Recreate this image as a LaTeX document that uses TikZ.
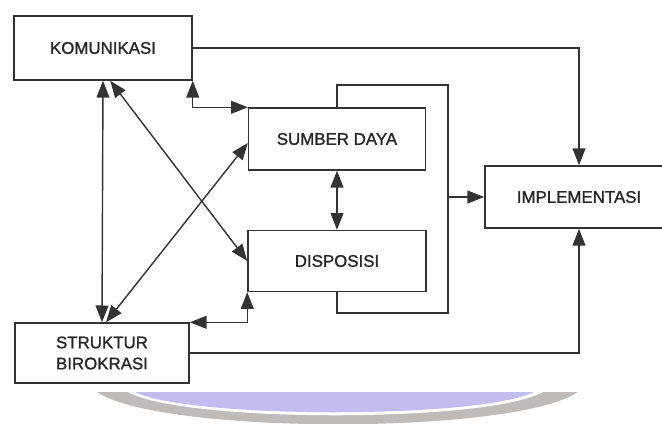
\documentclass[tikz,border=0pt]{standalone}
\usepackage{fontspec}
\setmainfont[FakeBold=1.2]{Liberation Sans}
\usetikzlibrary{arrows.meta,positioning,calc}
\definecolor{ink}{HTML}{333333}
\definecolor{tinta}{HTML}{262626}
\definecolor{lavender}{HTML}{C3BCEF}
\definecolor{band}{HTML}{BEBBB9}
\tikzset{
  blok/.style={draw=ink,line width=1pt,fill=white,inner sep=4pt,align=center,font=\fontsize{12}{15}\selectfont,text=tinta},
  flow/.style={-{Triangle[length=4.2mm,width=3.2mm]},line width=1pt,draw=ink},
  both/.style={{Triangle[length=4.2mm,width=3.2mm]}-{Triangle[length=4.2mm,width=3.2mm]},line width=1pt,draw=ink},
  loopline/.style={line width=1pt,draw=ink}
}
\begin{document}
\begin{tikzpicture}[x=0.025cm,y=-0.025cm]
    \useasboundingbox (0,0) rectangle (662,423);
    \clip (0,0) rectangle (662,423);

    % page decoration below the figure
    \fill[band] (97,392) -- (578,392) .. controls (515,435) and (160,435) .. (97,392) -- cycle;
    \fill[white] (128,392) -- (543,392) .. controls (488,423) and (183,423) .. (128,392) -- cycle;
    \fill[lavender] (135,392) -- (534,392) .. controls (480,419) and (189,419) .. (135,392) -- cycle;

    \node[blok,minimum width=4.45cm,minimum height=1.6cm] (komunikasi) at (103,48) {KOMUNIKASI};
    \node[blok,minimum width=4.42cm,minimum height=1.55cm] (sumber) at (337,139) {SUMBER DAYA};
    \node[blok,minimum width=4.45cm,minimum height=1.52cm] (disposisi) at (337,261) {DISPOSISI};
    \node[blok,minimum width=4.7cm,minimum height=1.55cm] (implementasi) at (579,197) {IMPLEMENTASI};
    \node[blok,minimum width=4.35cm,minimum height=1.5cm,align=left] (struktur) at (102,353) {STRUKTUR\\BIROKRASI};

    \coordinate (looptop) at (448,85);
    \coordinate (loopbot) at (448,313);
    \coordinate (loopkanan) at (448,197);

    \draw[loopline] (sumber.north) |- (looptop) -- (loopbot) -| (disposisi.south);
    \draw[flow] (loopkanan) -- (implementasi.west);

    \draw[flow] (komunikasi.east) -| (implementasi.north);
    \draw[flow] (struktur.east) -| (implementasi.south);

    \draw[both] (komunikasi.south east) |- (sumber.north west);
    \draw[both] (disposisi.south west) |- (struktur.north east);
    \draw[both] (komunikasi.south) -- (struktur.north);
    \draw[both] ([xshift=0.18cm]komunikasi.south) -- (disposisi.west);
    \draw[both] ([xshift=0.1cm]struktur.north) -- ([yshift=-0.1cm]sumber.west);
    \draw[both] (sumber.south) -- (disposisi.north);
  \end{tikzpicture}
\end{document}
